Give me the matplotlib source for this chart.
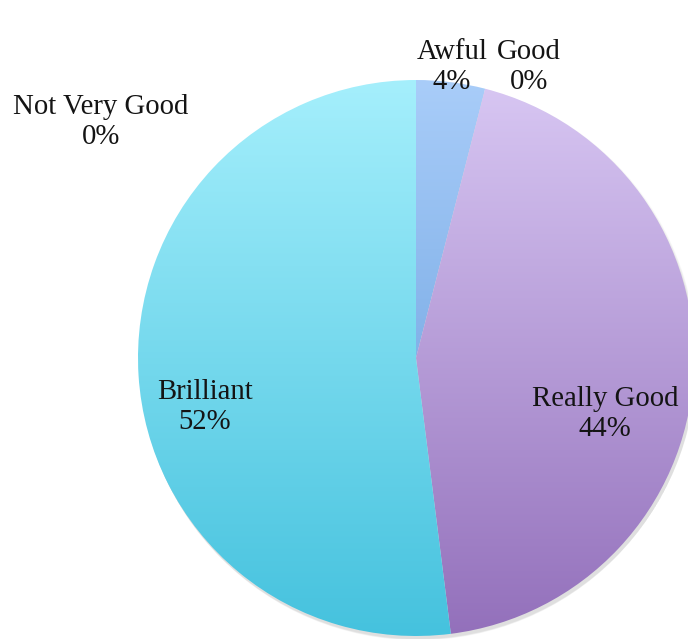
import numpy as np
import matplotlib
matplotlib.use("Agg")
import matplotlib.pyplot as plt
from matplotlib.colors import to_rgb
from matplotlib.patches import Circle

# Survey results, clockwise from 12 o'clock
categories = ["Awful", "Good", "Really Good", "Brilliant", "Not Very Good"]
percents = [4, 0, 44, 52, 0]

# Top / bottom colours of each slice's vertical gradient
top_colors = ["#a9cdf9", "#a9cdf9", "#d8c7f3", "#a5effc", "#a5effc"]
bottom_colors = ["#5a95d8", "#5a95d8", "#9370bb", "#45c2de", "#45c2de"]

# Label anchor positions (pixel coords from top-left) for name / percent lines
label_pos = {
    "Awful": (452, 52),
    "Good": (529, 52),
    "Really Good": (605, 399),
    "Brilliant": (205, 392),
    "Not Very Good": (101, 107),
}

W, H = 688, 639
fig = plt.figure(figsize=(W / 100, H / 100), dpi=100)
ax = fig.add_axes([0, 0, 1, 1])

cx, cy, r = 416, H - 358, 278

# soft drop shadow under the pie, offset down and right
for i in range(8):
    ax.add_patch(Circle((cx + 2, cy - 2 - i * 0.4), r + 1.0 - i * 0.2,
                        facecolor="black", alpha=0.015, lw=0, zorder=0))

wedges, _ = ax.pie(percents, startangle=90, counterclock=False,
                   center=(cx, cy), radius=r, frame=True,
                   wedgeprops=dict(linewidth=0))

n = 256
t = np.linspace(0, 1, n)[:, None]
for w, c0, c1 in zip(wedges, top_colors, bottom_colors):
    w.set_facecolor("none")
    a, b = np.array(to_rgb(c0)), np.array(to_rgb(c1))
    grad = (a[None, :] * (1 - t) + b[None, :] * t)[:, None, :]
    im = ax.imshow(grad, extent=(cx - r, cx + r, cy - r, cy + r),
                   origin="upper", aspect="auto", interpolation="bilinear",
                   zorder=1)
    im.set_clip_path(w)

ax.set_xlim(0, W)
ax.set_ylim(0, H)
ax.set_aspect("equal")
ax.axis("off")

font = dict(family="Liberation Serif", fontsize=20.7, color="#141414",
            ha="center", va="center", zorder=5)
for name, p in zip(categories, percents):
    x, y = label_pos[name]
    ax.text(x, H - y, name, **font)
    ax.text(x, H - (y + 30), f"{p}%", **font)

fig.savefig("out.png", dpi=100, facecolor="white")
